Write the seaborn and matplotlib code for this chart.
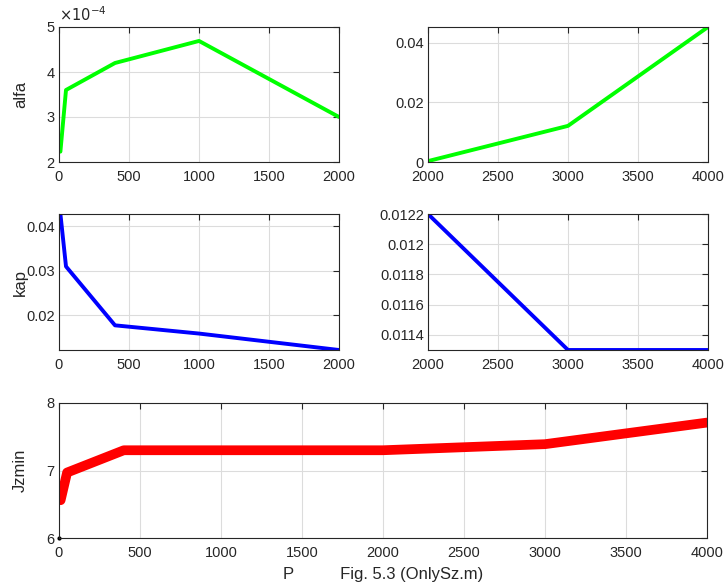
import matplotlib
matplotlib.use("Agg")
import matplotlib.pyplot as plt
import matplotlib.ticker as mticker
import seaborn as sns
import pandas as pd

P_left = [10, 50, 400, 1000, 2000]
P_right = [2000, 3000, 4000]
alfa_left = [2.23e-4, 3.6e-4, 4.2e-4, 4.69e-4, 3.0e-4]
alfa_right = [0.0003, 0.0121, 0.0452]
kap_left = [0.0428, 0.0310, 0.01775, 0.0159, 0.0122]
kap_right = [0.0122, 0.0113, 0.0113]
P_all = [10, 50, 400, 1000, 2000, 3000, 4000]
jzmin = [6.56, 6.97, 7.30, 7.30, 7.30, 7.39, 7.71]

sns.set_style("white")
plt.rcParams["font.family"] = ["Liberation Sans", "DejaVu Sans"]
plt.rcParams["font.size"] = 10.5
TXT = "#262626"

W, H = 727, 588
fig = plt.figure(figsize=(W / 100, H / 100), dpi=100)

def box(l, t, r, b):
    return [l / W, 1 - b / H, (r - l) / W, (b - t) / H]

def style(ax, xt, yt, xlim, ylim, fmt=None):
    ax.set_xlim(*xlim)
    ax.set_ylim(*ylim)
    ax.set_xticks(xt)
    ax.set_yticks(yt)
    ax.grid(True, color="#dcdcdc", linewidth=0.8)
    ax.set_axisbelow(True)
    for s in ax.spines.values():
        s.set_color(TXT)
        s.set_linewidth(0.8)
    ax.tick_params(direction="in", length=4, width=0.8, colors=TXT,
                   labelcolor=TXT, labelsize=10.5, top=True, right=True,
                   pad=3)
    ax.tick_params(axis="x", pad=6)
    ax.xaxis.set_major_formatter(mticker.FuncFormatter(lambda v, p: "%g" % v))
    if fmt is None:
        ax.yaxis.set_major_formatter(mticker.FuncFormatter(lambda v, p: "%g" % v))
    ax.set_xlabel("")
    ax.set_ylabel("")

# Top-left alfa
ax1 = fig.add_axes(box(59, 27, 339, 162))
sns.lineplot(x=P_left, y=alfa_left, ax=ax1, color="#00ff00", linewidth=2.8)
style(ax1, [0, 500, 1000, 1500, 2000], [2e-4, 3e-4, 4e-4, 5e-4], (0, 2000), (2e-4, 5e-4), fmt=1)
ax1.yaxis.set_major_formatter(mticker.FuncFormatter(lambda v, p: "%g" % round(v * 1e4, 6)))
ax1.text(0.0, 1.02, r"$\times10^{-4}$", transform=ax1.transAxes, fontsize=10.5,
         color=TXT, ha="left", va="bottom")
ax1.set_ylabel("alfa", color=TXT, fontsize=12)

# Top-right alfa
ax2 = fig.add_axes(box(428, 27, 708, 162))
sns.lineplot(x=P_right, y=alfa_right, ax=ax2, color="#00ff00", linewidth=2.8)
style(ax2, [2000, 2500, 3000, 3500, 4000], [0, 0.02, 0.04], (2000, 4000), (0, 0.0452))

# Middle-left kap
ax3 = fig.add_axes(box(59, 214, 339, 350))
sns.lineplot(x=P_left, y=kap_left, ax=ax3, color="#0000ff", linewidth=2.8)
style(ax3, [0, 500, 1000, 1500, 2000], [0.02, 0.03, 0.04], (0, 2000), (0.0122, 0.0428))
ax3.set_ylabel("kap", color=TXT, fontsize=12)

# Middle-right kap
ax4 = fig.add_axes(box(428, 214, 708, 350))
sns.lineplot(x=P_right, y=kap_right, ax=ax4, color="#0000ff", linewidth=2.8)
style(ax4, [2000, 2500, 3000, 3500, 4000],
      [0.0114, 0.0116, 0.0118, 0.012, 0.0122], (2000, 4000), (0.0113, 0.0122))

# Bottom Jzmin
ax5 = fig.add_axes(box(59, 403, 707, 538))
sns.lineplot(x=P_all, y=jzmin, ax=ax5, color="#ff0000", linewidth=7)
ax5.plot([0], [6], marker=".", color="black", markersize=4, clip_on=False)
style(ax5, list(range(0, 4001, 500)), [6, 7, 8], (0, 4000), (6, 8))
ax5.set_ylabel("Jzmin", color=TXT, fontsize=12)
ax5.set_xlabel("P          Fig. 5.3 (OnlySz.m)", color=TXT, fontsize=12, labelpad=5)

for ax in (ax1, ax3, ax5):
    ax.yaxis.set_label_coords(-0.11 * 280 / (ax.get_position().width * W), 0.5)

fig.savefig("out.png", dpi=100)
